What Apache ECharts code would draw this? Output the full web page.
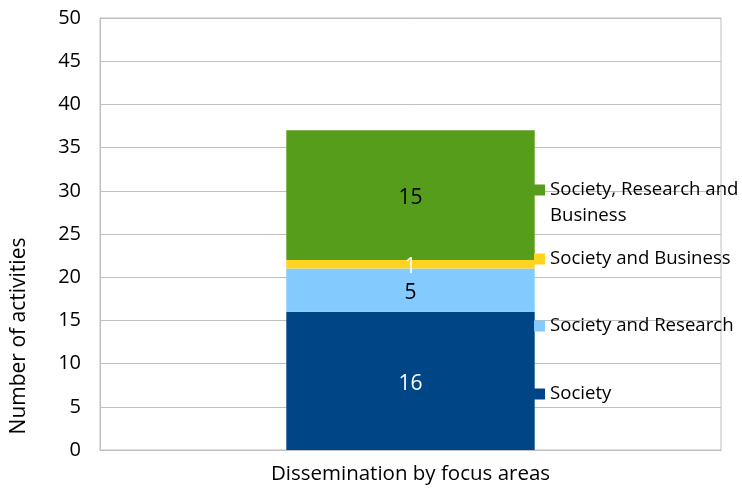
<!DOCTYPE html>
<html><head><meta charset="utf-8">
<script src="https://cdn.jsdelivr.net/npm/echarts@6/dist/echarts.min.js"></script>
<style>html,body{margin:0;padding:0;background:#fff}#c{width:742px;height:489px}</style>
</head><body><div id="c"></div>
<script>
const categories = ['Dissemination by focus areas'];
const seriesNames = ['Society', 'Society and Research', 'Society and Business', 'Society, Research and Business'];
const society = [16];
const societyResearch = [5];
const societyBusiness = [1];
const societyResearchBusiness = [15];
const yTicks = [0, 5, 10, 15, 20, 25, 30, 35, 40, 45, 50];

const values = [society, societyResearch, societyBusiness, societyResearchBusiness];
const colors = ['#004586', '#83caff', '#ffd320', '#579d1c'];
const labelColors = ['#ffffff', '#000000', '#ffffff', '#000000'];
const FONT = 'Open Sans';

const chart = echarts.init(document.getElementById('c'));
const legendTops = [384, 316, 249, 180];
chart.setOption({
  animation: false,
  textStyle: { fontFamily: FONT },
  grid: { left: 100, right: 21, top: 18, bottom: 39, show: true, borderColor: '#bfbfbf', borderWidth: 1 },
  xAxis: {
    type: 'category', data: categories,
    axisLine: { lineStyle: { color: '#bfbfbf' } },
    axisTick: { show: false },
    axisLabel: { color: '#000', fontSize: 20.5, fontFamily: FONT, margin: 14 }
  },
  yAxis: {
    type: 'value', min: yTicks[0], max: yTicks[yTicks.length - 1], interval: 5,
    axisLine: { show: true, lineStyle: { color: '#bfbfbf' } },
    splitLine: { lineStyle: { color: '#bfbfbf' } },
    axisTick: { show: false },
    axisLabel: { color: '#000', fontSize: 20, fontFamily: FONT, margin: 19 }
  },
  legend: seriesNames.map((n, i) => ({
    data: [n], orient: 'vertical', left: 534, top: legendTops[i], padding: 0,
    itemWidth: 11, itemHeight: 11, itemGap: 0, icon: 'rect', selectedMode: false,
    textStyle: { color: '#000', fontSize: 18.6, fontFamily: FONT, lineHeight: 20, padding: [0, 0, 0, 0] },
    formatter: i === 3 ? 'Society, Research and' : '{name}'
  })),
  graphic: [{
    type: 'text', x: 19, y: 336, rotation: Math.PI / 2,
    style: { text: 'Number of activities', fill: '#000', font: '21px "Open Sans"', textAlign: 'center', textVerticalAlign: 'middle' }
  }, {
    type: 'text', x: 550, y: 216,
    style: { text: 'Business', fill: '#000', font: '18.6px "Open Sans"', textAlign: 'left', textVerticalAlign: 'middle' }
  }],
  series: seriesNames.map((n, i) => ({
    name: n, type: 'bar', stack: 'total', barWidth: '40%',
    data: values[i],
    itemStyle: { color: colors[i] },
    label: { show: true, position: 'inside', offset: [0, 3], color: labelColors[i], fontSize: 21, fontFamily: FONT }
  }))
});
</script></body></html>
